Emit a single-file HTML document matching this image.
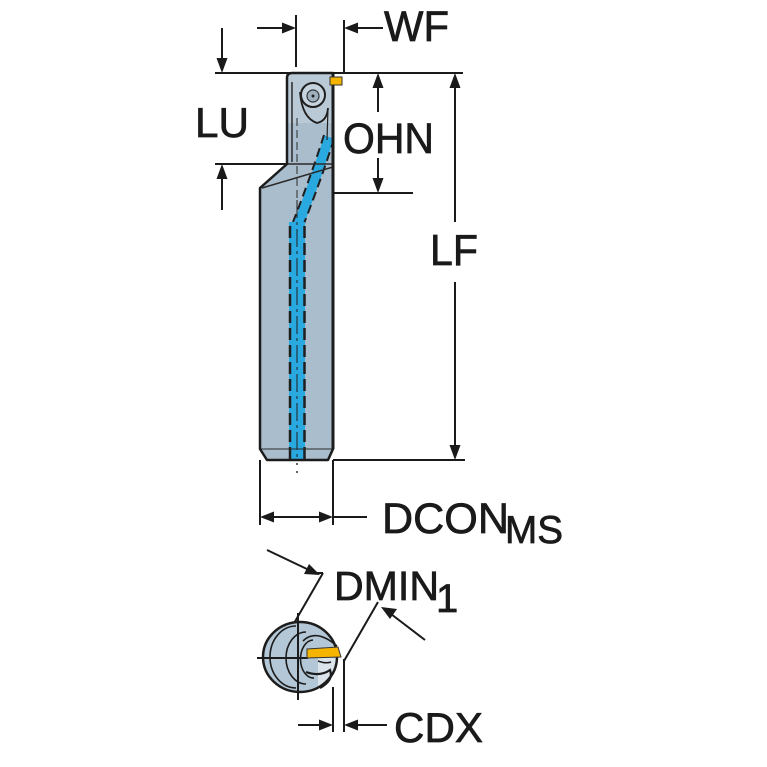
<!DOCTYPE html>
<html>
<head>
<meta charset="utf-8">
<style>
html,body{margin:0;padding:0;background:#fff;}
svg{display:block;}
text{font-family:"Liberation Sans",Arial,sans-serif;fill:#1a1a1a;stroke:#1a1a1a;stroke-width:0.7;}
</style>
</head>
<body>
<svg width="767" height="767" viewBox="0 0 767 767" xmlns="http://www.w3.org/2000/svg">
<defs>
<clipPath id="bodyclip">
<path d="M292,73 L333,73 L333,449 L328,460 L267,460 L260,449 L260,188 L287,164 L287,78 Q287,73 292,73 Z"/>
</clipPath>
<clipPath id="endclip">
<ellipse cx="300" cy="657" rx="37" ry="35"/>
</clipPath>
</defs>

<!-- ===== Tool body ===== -->
<path d="M292,73 L333,73 L333,449 L328,460 L267,460 L260,449 L260,188 L287,164 L287,78 Q287,73 292,73 Z" fill="#aabdcc"/>
<g clip-path="url(#bodyclip)">
  <rect x="287" y="73" width="46" height="50" fill="#b9c9d6"/>
  <!-- coolant diagonal -->
  <path d="M329,137 Q316,178 298,226" stroke="#2aa8e0" stroke-width="10" fill="none"/>
  <path d="M324,135 Q311,176 293,222" stroke="#1f1f1f" stroke-width="2" stroke-dasharray="9,5" fill="none"/>
  <path d="M334,139 Q321,180 303,226" stroke="#1f1f1f" stroke-width="2" stroke-dasharray="9,5" fill="none"/>
  <!-- coolant vertical -->
  <rect x="289" y="222" width="16" height="240" fill="#2aa8e0"/>
  <line x1="290" y1="226" x2="290" y2="460" stroke="#1f1f1f" stroke-width="2.5" stroke-dasharray="12,5"/>
  <line x1="304.5" y1="226" x2="304.5" y2="460" stroke="#1f1f1f" stroke-width="2.5" stroke-dasharray="12,5"/>
  <line x1="297" y1="200" x2="297" y2="460" stroke="#1f1f1f" stroke-width="1" stroke-dasharray="18,4,3,4"/>
  <!-- inner lines -->
  <line x1="292" y1="82" x2="292" y2="162" stroke="#2a2a2a" stroke-width="1.5"/>
  <line x1="297" y1="118" x2="297" y2="200" stroke="#2a2a2a" stroke-width="1" stroke-dasharray="8,4"/>
  <line x1="287" y1="164" x2="333" y2="164" stroke="#2a2a2a" stroke-width="1.5"/>
  <line x1="262" y1="188" x2="333" y2="167" stroke="#2a2a2a" stroke-width="1.5"/>
  <line x1="260" y1="449" x2="333" y2="449" stroke="#2a2a2a" stroke-width="1"/>
  <!-- screw & clamp -->
  <path d="M300,92 Q302,118 317,123 Q327,121 328,108" stroke="#1f1f1f" stroke-width="1.8" fill="none"/>
  <line x1="328" y1="108" x2="327" y2="140" stroke="#1f1f1f" stroke-width="1.2"/>
  <circle cx="313" cy="95" r="12" fill="#c6d4df" stroke="#1f1f1f" stroke-width="2"/>
  <circle cx="313" cy="96" r="6" fill="#9fb1c0" stroke="#333" stroke-width="1.2"/>
  <circle cx="313" cy="96" r="1.5" fill="#222"/>
</g>
<path d="M292,73 L333,73 L333,449 L328,460 L267,460 L260,449 L260,188 L287,164 L287,78 Q287,73 292,73 Z" fill="none" stroke="#1c1c1c" stroke-width="2.5" stroke-linejoin="round"/>
<line x1="333" y1="73" x2="333" y2="449" stroke="#1c1c1c" stroke-width="3"/>
<!-- insert -->
<rect x="330" y="77" width="12" height="8" fill="#f5b400" stroke="#333" stroke-width="1"/>
<!-- centre dots below -->
<circle cx="297" cy="464" r="1" fill="#333"/>
<circle cx="297" cy="472" r="1" fill="#333"/>

<!-- ===== Dimension lines ===== -->
<g stroke="#1a1a1a" stroke-width="2" fill="none">
  <line x1="215" y1="73" x2="463" y2="73"/>
  <!-- LU -->
  <line x1="222" y1="28" x2="222" y2="62"/>
  <line x1="215" y1="164" x2="287" y2="164"/>
  <line x1="222" y1="175" x2="222" y2="210"/>
  <!-- WF -->
  <line x1="296" y1="15" x2="296" y2="67"/>
  <line x1="344" y1="20" x2="344" y2="73"/>
  <line x1="257" y1="28" x2="285" y2="28"/>
  <line x1="355" y1="28" x2="383" y2="28"/>
  <!-- OHN -->
  <line x1="378" y1="84" x2="378" y2="112"/>
  <line x1="378" y1="158" x2="378" y2="182"/>
  <line x1="333" y1="193" x2="413" y2="193"/>
  <!-- LF -->
  <line x1="455" y1="84" x2="455" y2="222"/>
  <line x1="455" y1="282" x2="455" y2="449"/>
  <line x1="333" y1="460" x2="465" y2="460"/>
  <!-- DCON -->
  <line x1="260" y1="460" x2="260" y2="525"/>
  <line x1="333" y1="460" x2="333" y2="525"/>
  <line x1="271" y1="517" x2="322" y2="517"/>
  <line x1="333" y1="517" x2="367" y2="517"/>
  <!-- DMIN -->
  <line x1="267" y1="550" x2="309" y2="570"/>
  <line x1="323" y1="573" x2="293" y2="625"/>
  <line x1="312" y1="573" x2="323" y2="573"/>
  <line x1="425" y1="640" x2="391" y2="614"/>
  <line x1="378" y1="602" x2="344" y2="661"/>
  <!-- CDX -->
  <line x1="333" y1="687" x2="333" y2="732"/>
  <line x1="344" y1="659" x2="344" y2="732"/>
  <line x1="298" y1="725" x2="322" y2="725"/>
  <line x1="355" y1="725" x2="387" y2="725"/>
</g>
<g fill="#1a1a1a">
  <polygon points="222,73 216.5,58 227.5,58"/>
  <polygon points="222,164 216.5,179 227.5,179"/>
  <polygon points="296,28 282,22.5 282,33.5"/>
  <polygon points="344,28 358,22.5 358,33.5"/>
  <polygon points="378,73 372.5,88 383.5,88"/>
  <polygon points="378,193 372.5,178 383.5,178"/>
  <polygon points="455,73 449.5,88 460.5,88"/>
  <polygon points="455,460 449.5,445 460.5,445"/>
  <polygon points="260,517 274,511.5 274,522.5"/>
  <polygon points="333,517 319,511.5 319,522.5"/>
  <polygon points="320,575 304,574 309,564"/>
  <polygon points="381,607 397,609 390,619"/>
  <polygon points="333,725 319,719.5 319,730.5"/>
  <polygon points="344,725 358,719.5 358,730.5"/>
</g>

<!-- ===== End view ===== -->
<ellipse cx="300" cy="657" rx="37" ry="35" fill="#b3c7d6"/>
<g clip-path="url(#endclip)">
  <path d="M318,648 L340,646 L340,668 Q333,684 318,690 Z" fill="#dbe4eb"/>
</g>
<ellipse cx="300" cy="657" rx="37" ry="35" fill="none" stroke="#1c1c1c" stroke-width="2.5"/>
<g stroke="#1c1c1c" fill="none">
  <path d="M296,626 A26 31 0 0 0 296,688" stroke-width="1.6"/>
  <path d="M306,632 A20 26 0 0 0 306,684" stroke-width="1.6"/>
  <path d="M313,640 A13 19 0 0 0 314,678" stroke-width="1.6"/>
  <path d="M303,641 Q316,628 337,646" stroke-width="1.6"/>
  <path d="M318,661 Q326,664 331,662" stroke-width="1.5"/>
  <path d="M306,672 Q320,677 330,670 Q334,680 320,688" stroke-width="2.2"/>
  <line x1="257" y1="658" x2="308" y2="658" stroke-width="2"/>
  <line x1="298" y1="613" x2="298" y2="700" stroke-width="2"/>
</g>
<polygon points="307,649 338,647 341,657 307,658" fill="#f5b400" stroke="#333" stroke-width="1"/>

<!-- ===== Labels ===== -->
<text x="384" y="41" font-size="43" textLength="65" lengthAdjust="spacingAndGlyphs">WF</text>
<text x="195" y="137" font-size="42" textLength="54" lengthAdjust="spacingAndGlyphs">LU</text>
<text x="343" y="153" font-size="43" textLength="91" lengthAdjust="spacingAndGlyphs">OHN</text>
<text x="430" y="265" font-size="44" textLength="48" lengthAdjust="spacingAndGlyphs">LF</text>
<text x="382" y="533" font-size="43" textLength="127" lengthAdjust="spacingAndGlyphs">DCON</text>
<text x="505" y="543" font-size="39" textLength="58" lengthAdjust="spacingAndGlyphs">MS</text>
<text x="334" y="600" font-size="41" textLength="105" lengthAdjust="spacingAndGlyphs">DMIN</text>
<text x="436" y="612" font-size="40">1</text>
<text x="394" y="742" font-size="42" textLength="89" lengthAdjust="spacingAndGlyphs">CDX</text>
</svg>
</body>
</html>
